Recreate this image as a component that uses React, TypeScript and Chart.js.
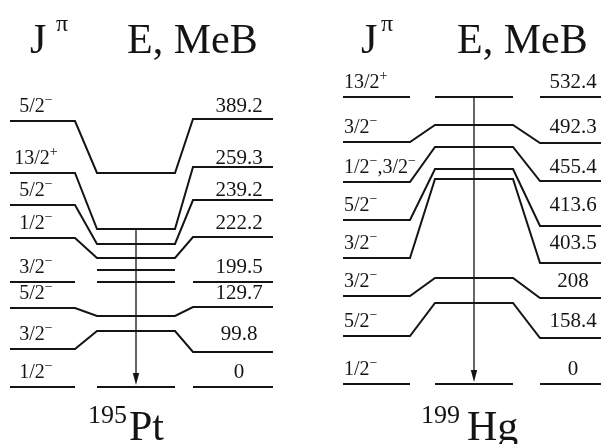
import React, { useEffect, useRef } from "react";
import { Chart, registerables } from "chart.js";

Chart.register(...registerables);

// ---------- data: 195Pt ----------
const ptSpins = ["5/2-", "13/2+", "5/2-", "1/2-", "3/2-", "5/2-", "3/2-", "1/2-"];
const ptEnergies = [389.2, 259.3, 239.2, 222.2, 199.5, 129.7, 99.8, 0];
// schematic row of each level (diagram units, downwards) in left / middle / right columns
const ptRowLeft = [121, 173, 205, 238, 282, 308, 349, 387];
const ptRowMid = [173, 229, 244, 258, 282, 316, 331, 387];
const ptRowRight = [119, 167, 200, 237, 282, 307, 352, 387];
const ptExtraMid = [270];
const ptGammaFrom = 1; // 13/2+ level
const ptMass = "195";
const ptSymbol = "Pt";

// ---------- data: 199Hg ----------
const hgSpins = ["13/2+", "3/2-", "1/2-,3/2-", "5/2-", "3/2-", "3/2-", "5/2-", "1/2-"];
const hgEnergies = [532.4, 492.3, 455.4, 413.6, 403.5, 208, 158.4, 0];
const hgRowLeft = [97, 142, 182, 220, 258, 296, 336, 384];
const hgRowMid = [97, 125, 147, 169, 179, 278, 303, 384];
const hgRowRight = [97, 143, 181, 226, 263, 298, 338, 384];
const hgExtraMid: number[] = [];
const hgGammaFrom = 0; // 13/2+ level
const hgMass = "199";
const hgSymbol = "Hg";

const titleJ = "J";
const titlePi = "π";
const titleE = "E, MeB";

// ---------- layout / style ----------
const W = 601;
const H = 444;
const INK = "#141414";
const FONT = '"Liberation Serif", "Times New Roman", serif';

type Panel = {
  spins: string[];
  energies: number[];
  rowL: number[];
  rowM: number[];
  rowR: number[];
  extraMid: number[];
  gammaFrom: number;
  mass: string;
  symbol: string;
  colL: [number, number];
  colM: [number, number];
  colR: [number, number];
  spinX: number;
  spinAlign: "center" | "left";
  energyX: number;
  jX: number;
  piX: number;
  eX: number;
  massX: number;
  symX: number;
  labelSize: number;
};

const panels: Panel[] = [
  {
    spins: ptSpins,
    energies: ptEnergies,
    rowL: ptRowLeft,
    rowM: ptRowMid,
    rowR: ptRowRight,
    extraMid: ptExtraMid,
    gammaFrom: ptGammaFrom,
    mass: ptMass,
    symbol: ptSymbol,
    colL: [10, 75],
    colM: [97, 175],
    colR: [193, 273],
    spinX: 36,
    spinAlign: "center",
    energyX: 239,
    jX: 30,
    piX: 56,
    eX: 127,
    massX: 88,
    symX: 129,
    labelSize: 20,
  },
  {
    spins: hgSpins,
    energies: hgEnergies,
    rowL: hgRowLeft,
    rowM: hgRowMid,
    rowR: hgRowRight,
    extraMid: hgExtraMid,
    gammaFrom: hgGammaFrom,
    mass: hgMass,
    symbol: hgSymbol,
    colL: [343, 410],
    colM: [435, 513],
    colR: [540, 610],
    spinX: 344,
    spinAlign: "left",
    energyX: 573,
    jX: 361,
    piX: 381,
    eX: 457,
    massX: 421,
    symX: 467,
    labelSize: 20,
  },
];

function buildDatasets() {
  const ds: any[] = [];
  const style = {
    borderColor: INK,
    borderWidth: 2,
    pointRadius: 0,
    fill: false,
    tension: 0,
    spanGaps: false,
    borderCapStyle: "butt",
  };
  panels.forEach((p) => {
    p.spins.forEach((_, i) => {
      const l = p.rowL[i];
      const m = p.rowM[i];
      const r = p.rowR[i];
      let data: any[];
      if (l === m && m === r) {
        data = [
          { x: p.colL[0], y: l },
          { x: p.colL[1], y: l },
          { x: (p.colL[1] + p.colM[0]) / 2, y: null },
          { x: p.colM[0], y: m },
          { x: p.colM[1], y: m },
          { x: (p.colM[1] + p.colR[0]) / 2, y: null },
          { x: p.colR[0], y: r },
          { x: p.colR[1], y: r },
        ];
      } else {
        data = [
          { x: p.colL[0], y: l },
          { x: p.colL[1], y: l },
          { x: p.colM[0], y: m },
          { x: p.colM[1], y: m },
          { x: p.colR[0], y: r },
          { x: p.colR[1], y: r },
        ];
      }
      ds.push({ ...style, data });
    });
    p.extraMid.forEach((m) => {
      ds.push({
        ...style,
        data: [
          { x: p.colM[0], y: m },
          { x: p.colM[1], y: m },
        ],
      });
    });
  });
  return ds;
}

type Part = { t: string; sup?: boolean };

function parseSpin(s: string): Part[] {
  const parts: Part[] = [];
  s.split(/([+-])/).forEach((seg) => {
    if (!seg) return;
    if (seg === "-") parts.push({ t: "\u2212", sup: true });
    else if (seg === "+") parts.push({ t: "+", sup: true });
    else parts.push({ t: seg });
  });
  return parts;
}

function drawRich(
  ctx: CanvasRenderingContext2D,
  parts: Part[],
  x: number,
  base: number,
  align: "left" | "center",
  size: number
) {
  const supSize = Math.round(size * 0.7);
  const widths = parts.map((p) => {
    ctx.font = `${p.sup ? supSize : size}px ${FONT}`;
    return ctx.measureText(p.t).width;
  });
  const total = widths.reduce((a, b) => a + b, 0);
  let cx = align === "center" ? x - total / 2 : x;
  ctx.textAlign = "left";
  parts.forEach((p, i) => {
    ctx.font = `${p.sup ? supSize : size}px ${FONT}`;
    ctx.fillText(p.t, cx, p.sup ? base - size * 0.42 : base);
    cx += widths[i];
  });
}

const textPlugin = {
  id: "levelText",
  afterDatasetsDraw(chart: any) {
    const ctx: CanvasRenderingContext2D = chart.ctx;
    const xs = chart.scales.x;
    const ys = chart.scales.y;
    const px = (v: number) => xs.getPixelForValue(v);
    const py = (v: number) => ys.getPixelForValue(v);
    ctx.save();
    ctx.fillStyle = INK;
    ctx.strokeStyle = INK;
    ctx.textBaseline = "alphabetic";
    panels.forEach((p) => {
      // headers
      ctx.textAlign = "left";
      ctx.font = `42px ${FONT}`;
      ctx.fillText(titleJ, px(p.jX), py(53));
      ctx.fillText(titleE, px(p.eX), py(53));
      ctx.font = `24px ${FONT}`;
      ctx.fillText(titlePi, px(p.piX), py(31));

      // level labels
      p.spins.forEach((s, i) => {
        const base = py(p.rowL[i] - 9);
        drawRich(ctx, parseSpin(s), px(p.spinX), base, p.spinAlign, p.labelSize);
        ctx.font = `21px ${FONT}`;
        ctx.textAlign = "center";
        ctx.fillText(String(p.energies[i]), px(p.energyX), base);
      });

      // gamma transition arrow
      const ax = px((p.colM[0] + p.colM[1]) / 2);
      const y0 = py(p.rowM[p.gammaFrom]);
      const y1 = py(p.rowM[p.rowM.length - 1]) - 2;
      ctx.lineWidth = 1.3;
      ctx.beginPath();
      ctx.moveTo(ax, y0);
      ctx.lineTo(ax, y1 - 8);
      ctx.stroke();
      ctx.beginPath();
      ctx.moveTo(ax, y1);
      ctx.lineTo(ax - 3.2, y1 - 12);
      ctx.lineTo(ax + 3.2, y1 - 12);
      ctx.closePath();
      ctx.fill();

      // nucleus label
      ctx.textAlign = "left";
      ctx.font = `26px ${FONT}`;
      ctx.fillText(p.mass, px(p.massX), py(423));
      ctx.font = `42px ${FONT}`;
      ctx.fillText(p.symbol, px(p.symX), py(440));
    });
    ctx.restore();
  },
};

export default function App() {
  const ref = useRef<HTMLCanvasElement | null>(null);
  useEffect(() => {
    if (!ref.current) return;
    const chart = new Chart(ref.current, {
      type: "line",
      data: { datasets: buildDatasets() },
      options: {
        responsive: false,
        animation: false,
        events: [],
        layout: { padding: 0 },
        plugins: { legend: { display: false }, tooltip: { enabled: false } },
        scales: {
          x: { type: "linear", min: 0, max: W, display: false },
          y: { type: "linear", min: 0, max: H, reverse: true, display: false },
        },
      },
      plugins: [textPlugin],
    } as any);
    return () => chart.destroy();
  }, []);
  return (
    <div style={{ position: "fixed", left: 0, top: 0, width: W, height: H, background: "#fff" }}>
      <canvas ref={ref} width={W} height={H} style={{ display: "block" }} />
    </div>
  );
}
